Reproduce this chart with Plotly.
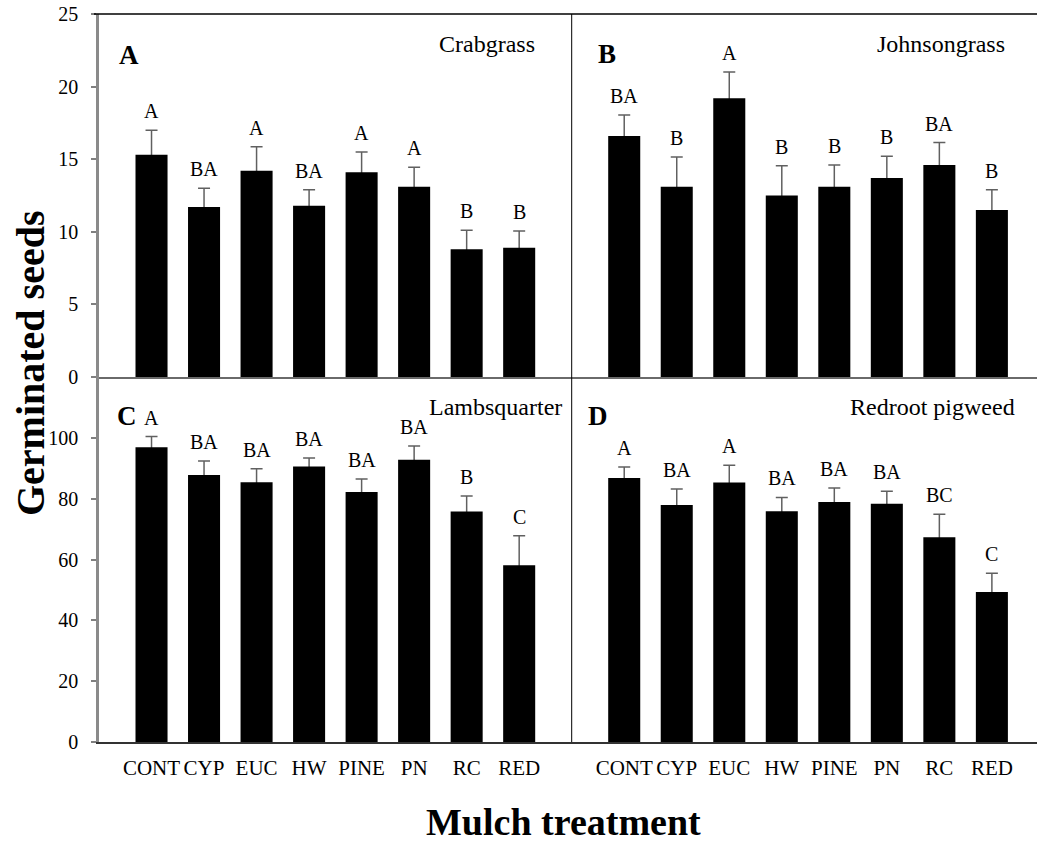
import plotly.graph_objects as go

# Mulch treatments (x categories)
treatments = ["CONT", "CYP", "EUC", "HW", "PINE", "PN", "RC", "RED"]

# Panel A - Crabgrass
crabgrass_mean = [15.3, 11.7, 14.2, 11.8, 14.1, 13.1, 8.8, 8.9]
crabgrass_se = [1.7, 1.3, 1.65, 1.1, 1.4, 1.35, 1.3, 1.15]
crabgrass_grp = ["A", "BA", "A", "BA", "A", "A", "B", "B"]

# Panel B - Johnsongrass
johnson_mean = [16.6, 13.1, 19.2, 12.5, 13.1, 13.7, 14.6, 11.5]
johnson_se = [1.45, 2.05, 1.8, 2.05, 1.5, 1.5, 1.55, 1.4]
johnson_grp = ["BA", "B", "A", "B", "B", "B", "BA", "B"]

# Panel C - Lambsquarter
lambs_mean = [96.9, 87.8, 85.4, 90.6, 82.2, 92.8, 75.8, 58.1]
lambs_se = [3.5, 4.6, 4.4, 2.8, 4.3, 4.5, 5.1, 9.7]
lambs_grp = ["A", "BA", "BA", "BA", "BA", "BA", "B", "C"]

# Panel D - Redroot pigweed
pigweed_mean = [86.8, 77.9, 85.3, 75.9, 78.9, 78.3, 67.3, 49.3]
pigweed_se = [3.6, 5.3, 5.7, 4.5, 4.6, 4.1, 7.6, 6.2]
pigweed_grp = ["A", "BA", "A", "BA", "BA", "BA", "BC", "C"]

panel_letters = ["A", "B", "C", "D"]
species = ["Crabgrass", "Johnsongrass", "Lambsquarter", "Redroot pigweed"]
y_ticks_top = [0, 5, 10, 15, 20, 25]
y_ticks_bottom = [0, 20, 40, 60, 80, 100]

SERIF = "Liberation Serif"
W, H = 1037, 846
ML, MR, MT, MB = 99, 0, 14, 104
PW, PH = W - ML - MR, H - MT - MB


def px_x(px):
    return (px - ML) / PW


def px_y(py):
    return (H - MB - py) / PH


split_x = px_x(571.7)
split_y = px_y(377)

panels = [
    ("x", "y", crabgrass_mean, crabgrass_se, crabgrass_grp),
    ("x2", "y2", johnson_mean, johnson_se, johnson_grp),
    ("x3", "y3", lambs_mean, lambs_se, lambs_grp),
    ("x4", "y4", pigweed_mean, pigweed_se, pigweed_grp),
]

fig = go.Figure()
annotations = []
bar_w = 0.61

for xa, ya, mean, se, grp in panels:
    # error bars first, so the solid bars drawn next hide their lower half
    fig.add_trace(go.Bar(
        x=treatments, y=mean, xaxis=xa, yaxis=ya, width=bar_w,
        marker=dict(color="rgba(0,0,0,0)", line=dict(width=0)),
        error_y=dict(type="data", array=se, symmetric=True,
                     color="#606060", thickness=1.5, width=6),
        hoverinfo="skip",
    ))
    fig.add_trace(go.Bar(
        x=treatments, y=mean, xaxis=xa, yaxis=ya, width=bar_w,
        marker=dict(color="black", line=dict(width=0)),
    ))
    for t, m, s, g in zip(treatments, mean, se, grp):
        annotations.append(dict(
            x=t, y=m + s, xref=xa, yref=ya, text=g, showarrow=False,
            xanchor="center", yanchor="bottom", yshift=6,
            font=dict(family=SERIF, size=20, color="black"),
        ))

# panel letters and species names
letter_pos = [(129, 55), (606.7, 54), (126.7, 416), (598.3, 415.5)]
species_pos = [(536.7, 44), (1006.7, 44), (426.7, 406.5), (1016.7, 406.5)]
species_anchor = ["right", "right", "left", "right"]
for letter, (lx, ly) in zip(panel_letters, letter_pos):
    annotations.append(dict(
        x=px_x(lx), y=px_y(ly), xref="paper", yref="paper", text=letter,
        showarrow=False, xanchor="center", yanchor="middle",
        font=dict(family=SERIF, size=27, color="black", weight="bold"),
    ))
for name, (sx, sy), anc in zip(species, species_pos, species_anchor):
    annotations.append(dict(
        x=px_x(sx), y=px_y(sy), xref="paper", yref="paper", text=name,
        showarrow=False, xanchor=anc, yanchor="middle",
        font=dict(family=SERIF, size=24, color="black"),
    ))

# axis titles
annotations.append(dict(
    x=px_x(30), y=px_y(363), xref="paper", yref="paper",
    text="Germinated seeds", textangle=-90, showarrow=False,
    xanchor="center", yanchor="middle",
    font=dict(family=SERIF, size=40, color="black", weight="bold"),
))
annotations.append(dict(
    x=px_x(563), y=px_y(822), xref="paper", yref="paper",
    text="Mulch treatment", showarrow=False,
    xanchor="center", yanchor="middle",
    font=dict(family=SERIF, size=38, color="black", weight="bold"),
))

right_max = -1 + (W - 571.7) / ((571.7 - ML) / 9.0)

tick_font = dict(family=SERIF, size=20, color="black")
xlab_font = dict(family=SERIF, size=21, color="black")

common_x = dict(type="category", showgrid=False, zeroline=False, ticks="",
                fixedrange=True)
fig.update_layout(
    width=W, height=H,
    margin=dict(l=ML, r=MR, t=MT, b=MB),
    paper_bgcolor="white", plot_bgcolor="white",
    showlegend=False, barmode="overlay",
    font=dict(family=SERIF, color="black"),
    xaxis=dict(common_x, domain=[0, split_x], range=[-1, 8], anchor="y",
               showticklabels=False, showline=True, linecolor="#6a6a6a",
               linewidth=2),
    xaxis2=dict(common_x, domain=[split_x, 1], range=[-1, right_max],
                anchor="y2", showticklabels=False, showline=True,
                linecolor="#6a6a6a", linewidth=2),
    xaxis3=dict(common_x, domain=[0, split_x], range=[-1, 8], anchor="y3",
                showticklabels=True, tickfont=xlab_font,
                ticklabelstandoff=6, showline=True, linecolor="#333333",
                linewidth=1.5),
    xaxis4=dict(common_x, domain=[split_x, 1], range=[-1, right_max],
                anchor="y4", showticklabels=True, tickfont=xlab_font,
                ticklabelstandoff=6, showline=True, linecolor="#333333",
                linewidth=1.5),
    yaxis=dict(domain=[split_y, 1], range=[0, 25], anchor="x",
               tickvals=y_ticks_top, ticks="outside", ticklen=5,
               tickcolor="#808080", tickwidth=1.5, showline=True,
               linecolor="#8a8a8a", linewidth=2.5, showgrid=False,
               zeroline=False, tickfont=tick_font, ticklabelstandoff=9),
    yaxis2=dict(domain=[split_y, 1], range=[0, 25], anchor="x2",
                showticklabels=False, ticks="", showline=False,
                showgrid=False, zeroline=False),
    yaxis3=dict(domain=[0, split_y], range=[0, 120], anchor="x3",
                tickvals=y_ticks_bottom, ticks="outside", ticklen=5,
                tickcolor="#808080", tickwidth=1.5, showline=True,
                linecolor="#8a8a8a", linewidth=2.5, showgrid=False,
                zeroline=False, tickfont=tick_font, ticklabelstandoff=9),
    yaxis4=dict(domain=[0, split_y], range=[0, 120], anchor="x4",
                showticklabels=False, ticks="", showline=False,
                showgrid=False, zeroline=False),
    annotations=annotations,
    shapes=[
        # frame top edge
        dict(type="line", xref="paper", yref="paper", x0=px_x(94), x1=1,
             y0=1, y1=1, line=dict(color="black", width=1.5)),
        # divider between left and right panels
        dict(type="line", xref="paper", yref="paper", x0=split_x, x1=split_x,
             y0=0, y1=1, line=dict(color="black", width=1)),
    ],
)

fig.write_html("out.html")
